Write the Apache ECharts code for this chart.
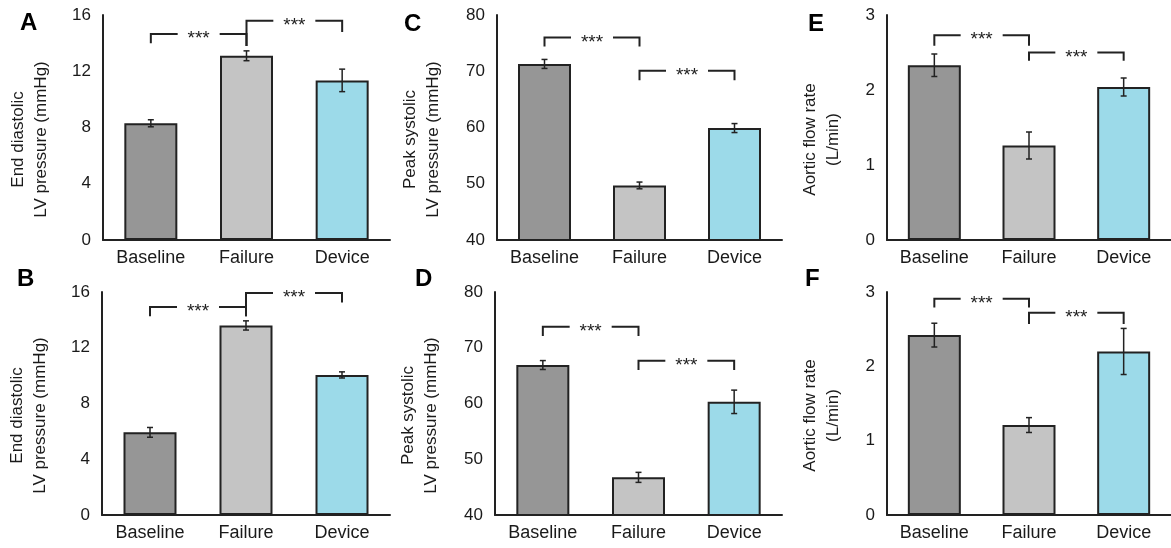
<!DOCTYPE html>
<html>
<head>
<meta charset="utf-8">
<script src="https://cdn.jsdelivr.net/npm/echarts@6/dist/echarts.min.js"></script>
<style>
html,body{margin:0;padding:0;background:#fff;}
#c{width:1171px;height:548px;}
</style>
</head>
<body>
<div id="c"></div>
<script>
// ---- data ----
var categories = ['Baseline', 'Failure', 'Device'];
var barColors = ['#969696', '#c4c4c4', '#9cdae9'];

var meanA = [8.3, 13.1, 11.35];  var errA = [0.25, 0.35, 0.8];
var meanB = [5.93, 13.6, 10.05]; var errB = [0.35, 0.33, 0.22];
var meanC = [71.3, 49.7, 59.9];  var errC = [0.8, 0.6, 0.8];
var meanD = [66.9, 46.75, 60.3]; var errD = [0.8, 0.9, 2.1];
var meanE = [2.33, 1.26, 2.04];  var errE = [0.15, 0.18, 0.12];
var meanF = [2.42, 1.21, 2.20];  var errF = [0.16, 0.10, 0.31];

// brackets: [fromIndex, toIndex, yTop, yLeftEnd, yRightEnd]
var bracketsA = [[0, 1, 14.65, 14.0, 13.8], [1, 2, 15.6, 13.8, 14.8]];
var bracketsB = [[0, 1, 14.93, 14.26, 14.26], [1, 2, 15.93, 14.26, 15.24]];
var bracketsC = [[0, 1, 76.0, 74.4, 74.4], [1, 2, 70.1, 68.4, 68.4]];
var bracketsD = [[0, 1, 73.75, 72.1, 72.1], [1, 2, 67.65, 66.0, 66.0]];
var bracketsE = [[0, 1, 2.73, 2.59, 2.59], [1, 2, 2.50, 2.39, 2.39]];
var bracketsF = [[0, 1, 2.91, 2.79, 2.79], [1, 2, 2.72, 2.57, 2.57]];
var sigLabel = '***';

var yNames = {
  lv: 'End diastolic\nLV pressure (mmHg)',
  ps: 'Peak systolic\nLV pressure (mmHg)',
  ao: 'Aortic flow rate\n(L/min)'
};

var panels = [
  {letter: 'A', mean: meanA, err: errA, br: bracketsA, min: 0, max: 16, interval: 4, name: yNames.lv,
   grid: {left: 103, top: 15, width: 287, height: 225}, lx: 32, ly: 24, nx: 30},
  {letter: 'C', mean: meanC, err: errC, br: bracketsC, min: 40, max: 80, interval: 10, name: yNames.ps,
   grid: {left: 497, top: 15, width: 285, height: 225}, lx: 416, ly: 25, nx: 422},
  {letter: 'E', mean: meanE, err: errE, br: bracketsE, min: 0, max: 3, interval: 1, name: yNames.ao,
   grid: {left: 887, top: 15, width: 284, height: 225}, lx: 820, ly: 25, nx: 822},
  {letter: 'B', mean: meanB, err: errB, br: bracketsB, min: 0, max: 16, interval: 4, name: yNames.lv,
   grid: {left: 102, top: 292, width: 288, height: 223}, lx: 29, ly: 280, nx: 29},
  {letter: 'D', mean: meanD, err: errD, br: bracketsD, min: 40, max: 80, interval: 10, name: yNames.ps,
   grid: {left: 495, top: 292, width: 287, height: 223}, lx: 427, ly: 280, nx: 420},
  {letter: 'F', mean: meanF, err: errF, br: bracketsF, min: 0, max: 3, interval: 1, name: yNames.ao,
   grid: {left: 887, top: 292, width: 284, height: 223}, lx: 817, ly: 280, nx: 822}
];

var FONT = 'Liberation Sans, Arial, sans-serif';
var TXT = '#1a1a1a';

var grids = [], xAxes = [], yAxes = [], series = [], graphics = [];

panels.forEach(function (p, i) {
  grids.push(p.grid);
  xAxes.push({
    type: 'category', gridIndex: i, data: categories,
    axisLine: {lineStyle: {color: '#222', width: 2}},
    axisTick: {show: false},
    axisLabel: {color: TXT, fontSize: 18, fontFamily: FONT, margin: 9}
  });
  yAxes.push({
    type: 'value', gridIndex: i, min: p.min, max: p.max, interval: p.interval,
    axisLine: {show: true, lineStyle: {color: '#222', width: 2}},
    axisTick: {show: false},
    splitLine: {show: false},
    axisLabel: {color: TXT, fontSize: 17, fontFamily: FONT, margin: 12}
  });
  series.push({
    type: 'bar', xAxisIndex: i, yAxisIndex: i, barWidth: 53,
    data: p.mean.map(function (v, k) {
      return {value: v, itemStyle: {color: barColors[k], borderColor: '#222', borderWidth: 2}};
    }),
    z: 2
  });
  // error bars
  series.push({
    type: 'custom', xAxisIndex: i, yAxisIndex: i, z: 5,
    data: p.mean.map(function (v, k) { return [k, v, p.err[k]]; }),
    renderItem: function (params, api) {
      var x = api.value(0), m = api.value(1), e = api.value(2);
      var hi = api.coord([x, m + e]);
      var lo = api.coord([x, m - e]);
      var st = {stroke: '#222', lineWidth: 1.5};
      return {type: 'group', children: [
        {type: 'line', shape: {x1: hi[0], y1: hi[1], x2: lo[0], y2: lo[1]}, style: st},
        {type: 'line', shape: {x1: hi[0] - 3, y1: hi[1], x2: hi[0] + 3, y2: hi[1]}, style: st},
        {type: 'line', shape: {x1: lo[0] - 3, y1: lo[1], x2: lo[0] + 3, y2: lo[1]}, style: st}
      ]};
    }
  });
  // significance brackets
  series.push({
    type: 'custom', xAxisIndex: i, yAxisIndex: i, z: 6,
    data: p.br,
    renderItem: function (params, api) {
      var a = api.value(0), b = api.value(1), yt = api.value(2), yl = api.value(3), yr = api.value(4);
      var pTL = api.coord([a, yt]), pTR = api.coord([b, yt]);
      var pL = api.coord([a, yl]), pR = api.coord([b, yr]);
      var st = {stroke: '#222', lineWidth: 2, fill: null};
      var mid = (pTL[0] + pTR[0]) / 2;
      var gap = 21;
      return {type: 'group', children: [
        {type: 'polyline', shape: {points: [[pL[0], pL[1]], [pTL[0], pTL[1]], [mid - gap, pTL[1]]]}, style: st},
        {type: 'polyline', shape: {points: [[mid + gap, pTR[1]], [pTR[0], pTR[1]], [pR[0], pR[1]]]}, style: st},
        {type: 'text', style: {text: sigLabel, x: mid, y: pTL[1] + 5, align: 'center', verticalAlign: 'middle',
          fontSize: 19, fontFamily: FONT, fill: '#222'}}
      ]};
    }
  });
  // panel letter
  graphics.push({
    type: 'text', left: p.lx - 12, top: p.ly - 13,
    style: {text: p.letter, fontSize: 24, fontWeight: 'bold', fontFamily: FONT, fill: '#000'}
  });
  // y axis name (rotated)
  var cy = p.grid.top + p.grid.height / 2 + 12;
  graphics.push({
    type: 'text', x: p.nx, y: cy, rotation: Math.PI / 2,
    style: {text: p.name, fontSize: 17, fontFamily: FONT, fill: TXT, align: 'center', verticalAlign: 'middle', lineHeight: 23}
  });
});

var chart = echarts.init(document.getElementById('c'), null, {renderer: 'canvas'});
chart.setOption({
  animation: false,
  backgroundColor: '#fff',
  grid: grids, xAxis: xAxes, yAxis: yAxes, series: series, graphic: graphics
});
</script>
</body>
</html>
